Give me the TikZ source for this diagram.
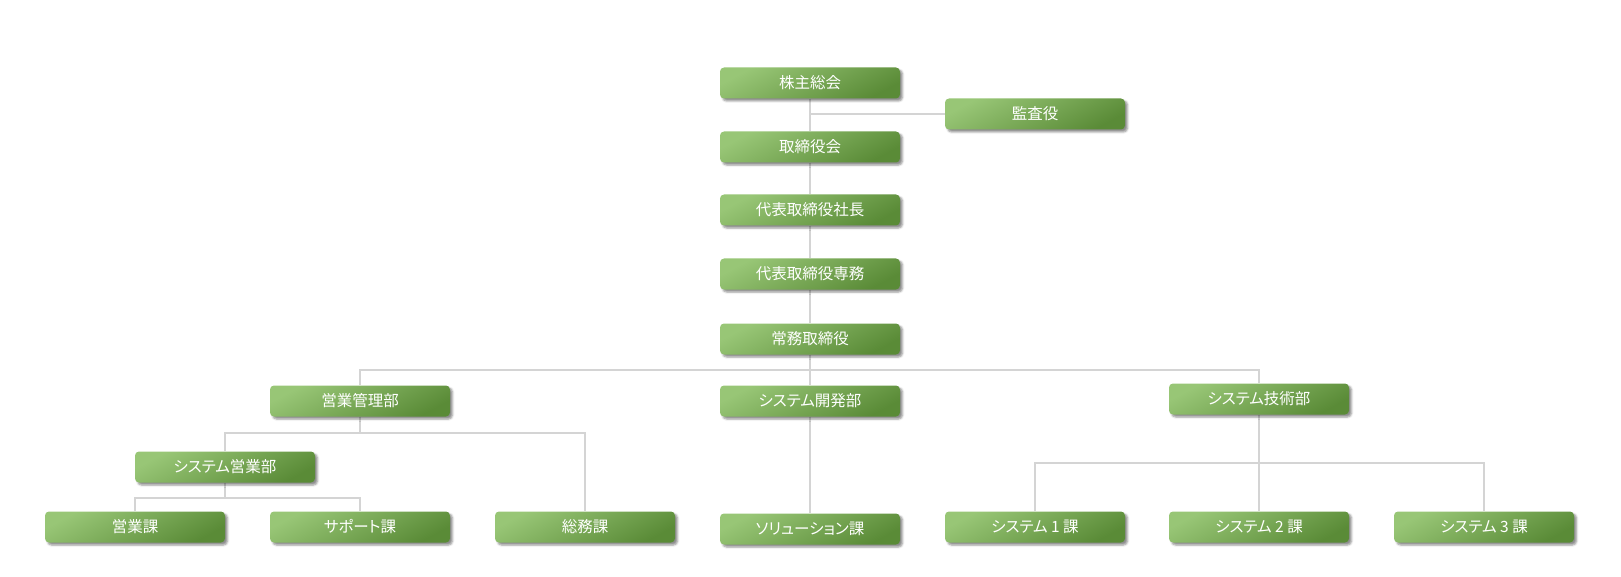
\documentclass[tikz,border=0pt]{standalone}
\usepackage{fontspec}
\setmainfont{Noto Sans CJK JP}[RawFeature=+palt]
\usetikzlibrary{shadows.blur,backgrounds}
\definecolor{gLight}{RGB}{152,198,118}
\definecolor{gDark}{RGB}{90,139,55}
\definecolor{lineGray}{RGB}{212,212,212}
\tikzset{
  orgbox/.style={rounded corners=4pt, minimum width=180pt, minimum height=31pt, inner sep=0pt,
    top color=gLight, bottom color=gDark, shading angle=28,
    blur shadow={shadow xshift=2.5pt, shadow yshift=-2.5pt, shadow blur radius=2pt, shadow opacity=45},
    text=white, font=\fontsize{15.5}{16}\selectfont},
  conn/.style={draw=lineGray, line width=1.8pt}
}
\begin{document}
\begin{tikzpicture}[x=1pt,y=-1pt]
\useasboundingbox (0,0) rectangle (1621,577);
% junction levels
\coordinate (kJ) at (810,114);
\coordinate (b1) at (810,370);
\coordinate (b2) at (360,433);
\coordinate (b3) at (225,498);
\coordinate (b4) at (1259,463);
% nodes
\node[orgbox] (kabu)  at (810,83)  {株主総会};
\node[orgbox] (kansa) at (1035,114) {監査役};
\node[orgbox] (tori)  at (810,147) {取締役会};
\node[orgbox] (shacho) at (810,210) {代表取締役社長};
\node[orgbox] (senmu) at (810,274) {代表取締役専務};
\node[orgbox] (jomu)  at (810,339) {常務取締役};
\node[orgbox] (eikan) at (360,401) {営業管理部};
\node[orgbox] (kaihatsu) at (810,401) {システム開発部};
\node[orgbox] (gijutsu) at (1259,399) {システム技術部};
\node[orgbox] (seigyo) at (225,467) {システム営業部};
\node[orgbox] (eika)  at (135,527) {営業課};
\node[orgbox] (support) at (360,527) {サポート課};
\node[orgbox] (somu)  at (585,527) {総務課};
\node[orgbox] (solu)  at (810,529) {ソリューション課};
\node[orgbox] (sys1)  at (1035,527) {システム 1 課};
\node[orgbox] (sys2)  at (1259,527) {システム 2 課};
\node[orgbox] (sys3)  at (1484,527) {システム 3 課};
% connectors
\begin{scope}[on background layer]
\draw[conn] (kabu.south) -- (tori.north);
\draw[conn] (kJ) -- (kansa.west);
\draw[conn] (tori.south) -- (shacho.north);
\draw[conn] (shacho.south) -- (senmu.north);
\draw[conn] (senmu.south) -- (jomu.north);
\draw[conn] (jomu.south) -- (b1);
\draw[conn] (eikan.north) -- (eikan.north |- b1) -- (gijutsu.north |- b1) -- (gijutsu.north);
\draw[conn] (b1) -- (kaihatsu.north);
\draw[conn] (kaihatsu.south) -- (solu.north);
\draw[conn] (eikan.south) -- (b2);
\draw[conn] (seigyo.north) -- (seigyo.north |- b2) -- (somu.north |- b2) -- (somu.north);
\draw[conn] (seigyo.south) -- (b3);
\draw[conn] (eika.north) -- (eika.north |- b3) -- (support.north |- b3) -- (support.north);
\draw[conn] (gijutsu.south) -- (b4);
\draw[conn] (sys1.north) -- (sys1.north |- b4) -- (sys3.north |- b4) -- (sys3.north);
\draw[conn] (b4) -- (sys2.north);
\end{scope}
\end{tikzpicture}
\end{document}
